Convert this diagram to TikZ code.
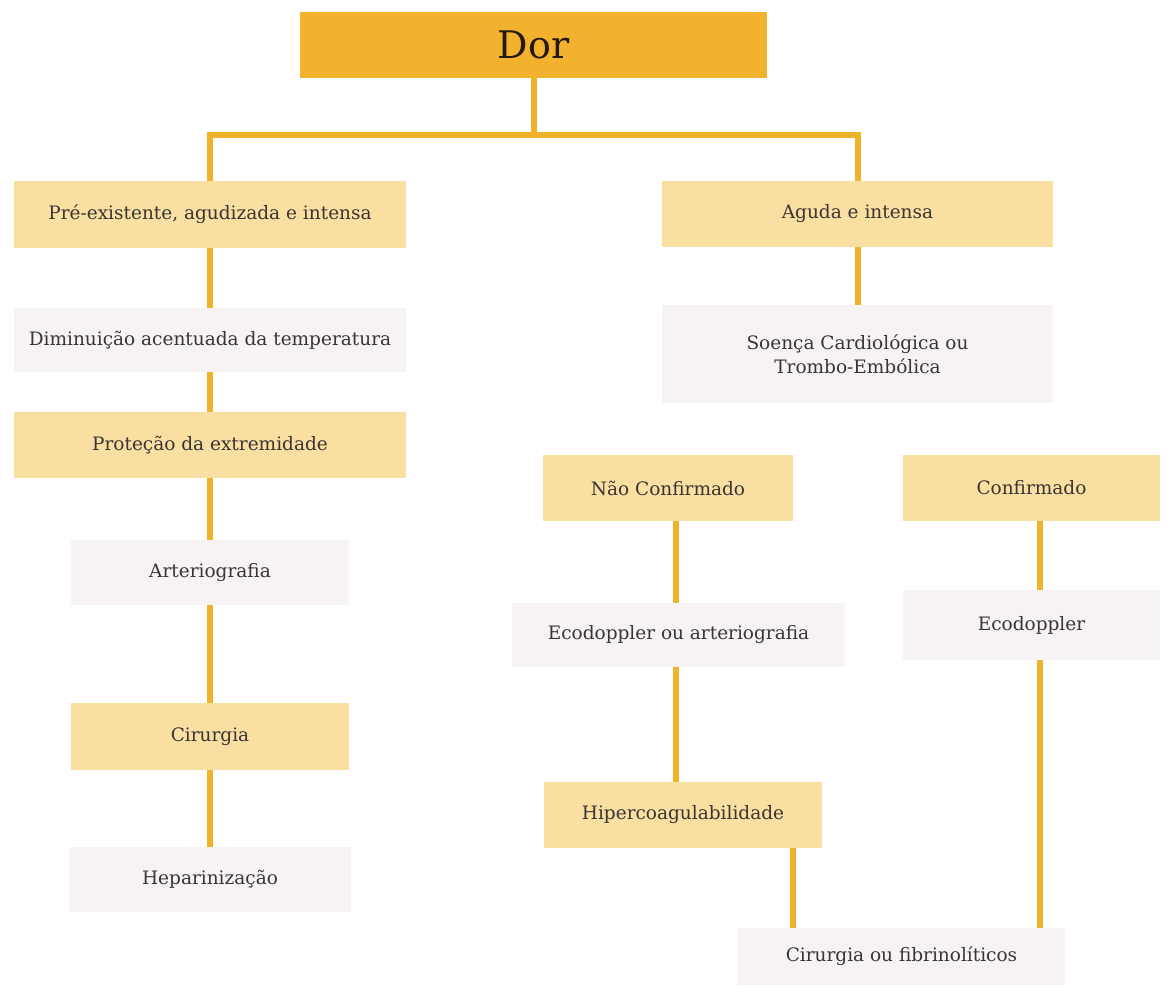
\documentclass[tikz,border=0pt]{standalone}
\usepackage{fontspec}
\setmainfont{DejaVu Serif}
\definecolor{gold}{HTML}{F2B22E}
\definecolor{linegold}{HTML}{EFB32A}
\definecolor{paleyellow}{HTML}{F9DFA2}
\definecolor{palegrey}{HTML}{F7F3F4}
\definecolor{txt}{HTML}{3A3532}
\begin{document}
\begin{tikzpicture}[x=1pt,y=-1pt,
  box/.style={draw=none,inner sep=0pt,align=center,text=txt,font=\fontsize{18.5}{24}\selectfont},
  yel/.style={box,fill=paleyellow},
  gry/.style={box,fill=palegrey},
  link/.style={draw=linegold,line width=6pt}]
\useasboundingbox[fill=white] (0,0) rectangle (1171,988);

% root
\node[box,fill=gold,minimum width=467pt,minimum height=66pt,text=black!80!brown,
      font=\fontsize{38}{42}\selectfont] (dor) at (533.5,45) {Dor};

% left branch
\node[yel,minimum width=392pt,minimum height=67pt] (pre) at (210,214.5) {Pré-existente, agudizada e intensa};
\node[gry,minimum width=392pt,minimum height=64pt] (dim) at (210,340) {Diminuição acentuada da temperatura};
\node[yel,minimum width=392pt,minimum height=66pt] (pro) at (210,445) {Proteção da extremidade};
\node[gry,minimum width=278pt,minimum height=65pt] (art) at (210,572.5) {Arteriografia};
\node[yel,minimum width=278pt,minimum height=67pt] (cir) at (210,736.5) {Cirurgia};
\node[gry,minimum width=282pt,minimum height=65pt] (hep) at (210,879.5) {Heparinização};

% right branch
\node[yel,minimum width=391pt,minimum height=66pt] (agu) at (857.5,214) {Aguda e intensa};
\node[gry,minimum width=391pt,minimum height=98pt] (soe) at (857.5,354) {Soença Cardiológica ou\\Trombo-Embólica};
\node[yel,minimum width=250pt,minimum height=66pt] (nao) at (668,488) {Não Confirmado};
\node[yel,minimum width=257pt,minimum height=66pt] (con) at (1031.5,488) {Confirmado};
\node[gry,minimum width=333pt,minimum height=64pt] (eco1) at (678.5,635) {Ecodoppler ou arteriografia};
\node[gry,minimum width=257pt,minimum height=70pt] (eco2) at (1031.5,625) {Ecodoppler};
\node[yel,minimum width=278pt,minimum height=66pt] (hip) at (683,815) {Hipercoagulabilidade};
\node[gry,minimum width=327pt,minimum height=57pt] (cf) at (901.5,956.5) {Cirurgia ou fibrinolíticos};

% connectors
\coordinate (junc) at (533.5,135);
\draw[link] (dor.south) -- (junc);
\draw[link] (pre.north) |- (junc) -| (agu.north);
\draw[link] (pre) -- (dim);
\draw[link] (dim) -- (pro);
\draw[link] (pro) -- (art);
\draw[link] (art) -- (cir);
\draw[link] (cir) -- (hep);
\draw[link] (agu) -- (soe);
\draw[link] ([xshift=8pt]nao.south) -- ([xshift=8pt]nao.south |- eco1.north);
\draw[link] ([xshift=-2.5pt]eco1.south) -- ([xshift=-2.5pt]eco1.south |- hip.north);
\draw[link] ([xshift=110pt]hip.south) -- ([xshift=110pt]hip.south |- cf.north);
\draw[link] ([xshift=8.5pt]con.south) -- ([xshift=8.5pt]con.south |- eco2.north);
\draw[link] ([xshift=8.5pt]eco2.south) -- ([xshift=8.5pt]eco2.south |- cf.north);
\end{tikzpicture}
\end{document}
